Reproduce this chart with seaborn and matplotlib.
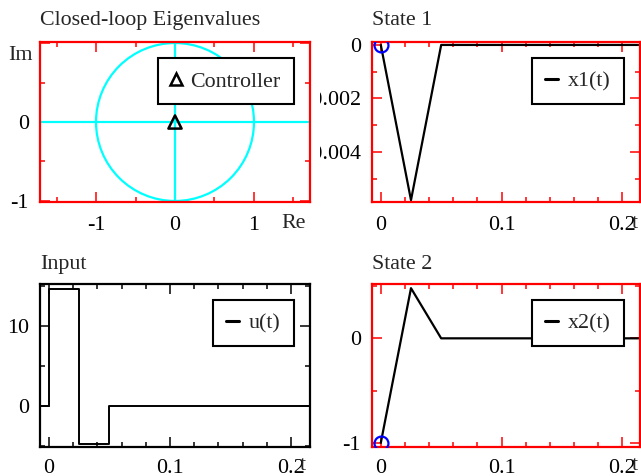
import matplotlib
matplotlib.use("Agg")
import matplotlib.pyplot as plt
import matplotlib.ticker as ticker
from matplotlib.patches import Circle
from matplotlib.transforms import Bbox
import pandas as pd
import seaborn as sns

# Data
eig_re = [0.0]
eig_im = [0.0]
unit_radius = 1.0

t = [0.0, 0.025, 0.05, 0.075, 0.1, 0.125, 0.15, 0.175, 0.2, 0.225]
x1 = [0.0, -0.0058, 0.0, 0.0, 0.0, 0.0, 0.0, 0.0, 0.0, 0.0]
x2 = [-1.0, 0.48, 0.0, 0.0, 0.0, 0.0, 0.0, 0.0, 0.0, 0.0]

t_u = [-0.01, 0.0, 0.025, 0.05, 0.225]
u = [0.0, 14.6, -4.75, 0.0, 0.0]

x0 = [0.0, -1.0]  # initial state

# Style
sns.set_style("ticks")
plt.rcParams['font.family'] = ['Liberation Serif', 'DejaVu Serif']
FS = 15.8
W, H = 641, 476
fig = plt.figure(figsize=(W / 100, H / 100), dpi=100)


def px_axes(x0_, y0_, x1_, y1_):
    return fig.add_axes([x0_ / W, 1 - y1_ / H, (x1_ - x0_) / W, (y1_ - y0_) / H])


def style_axes(ax, color, xmaj, xmin, ymaj, ymin, xpad=10):
    for s in ax.spines.values():
        s.set_color(color)
        s.set_linewidth(1.6)
        s.set_visible(True)
    ax.xaxis.set_major_locator(ticker.MultipleLocator(xmaj))
    ax.xaxis.set_minor_locator(ticker.MultipleLocator(xmin))
    ax.yaxis.set_major_locator(ticker.MultipleLocator(ymaj))
    ax.yaxis.set_minor_locator(ticker.MultipleLocator(ymin))
    ax.tick_params(which='both', direction='in', top=True, right=True,
                   color=color, width=1.1, labelsize=FS, labelcolor='black')
    ax.tick_params(which='major', length=7)
    ax.tick_params(which='minor', length=3.5)
    ax.tick_params(axis='x', which='major', pad=xpad)
    ax.tick_params(axis='y', which='major', pad=8)
    ax.xaxis.set_major_formatter(ticker.FuncFormatter(fmt))
    ax.yaxis.set_major_formatter(ticker.FuncFormatter(fmt))
    ax.set_xlabel("")
    ax.set_ylabel("")


def legend(ax, handles, labels, hl):
    leg = ax.legend(handles, labels, loc='upper right', fontsize=FS, frameon=True,
                    fancybox=False, shadow=False, framealpha=1, edgecolor='black',
                    borderpad=0.58, handlelength=hl, handletextpad=0.45,
                    borderaxespad=0.75)
    leg.get_frame().set_linewidth(1.5)
    return leg


def fmt(v, pos):
    if abs(v) < 1e-12:
        return "0"
    return ("%g" % v)


def corner_label(ax, text, dx, dy):
    ax.annotate(text, xy=(1, 0), xycoords='axes fraction', xytext=(dx, dy),
                textcoords='offset pixels', ha='center', va='center', fontsize=FS)


# Panel 1: eigenvalues
ax1 = px_axes(40, 42, 310, 202)
ax1.axhline(0, color='cyan', lw=1.6, zorder=1)
sns.lineplot(x=[0, 0], y=[-unit_radius, unit_radius], ax=ax1, color='cyan', lw=1.6,
             zorder=1, estimator=None, sort=False)
ax1.add_patch(Circle((0, 0), unit_radius, fill=False, edgecolor='cyan', lw=1.6, zorder=1))
sns.scatterplot(x=eig_re, y=eig_im, ax=ax1, marker='^', s=90, facecolor='none',
                edgecolor='black', linewidth=1.8, zorder=3)
ax1.set_xlim(-1.709, 1.709)
ax1.set_ylim(-1.013, 1.013)
style_axes(ax1, 'red', 1, 0.5, 1, 0.5)
ax1.yaxis.set_major_formatter(ticker.FuncFormatter(lambda v, p: "" if v > 0.5 else fmt(v, p)))
ax1.set_title("Closed-loop Eigenvalues", loc='left', fontsize=FS, pad=12)
h1, = ax1.plot([], [], marker='^', ls='none', ms=9, mfc='none', mec='black', mew=1.8)
legend(ax1, [h1], ["Controller"], 0.45)
ax1.annotate("Im", xy=(0, 1), xycoords='axes fraction', xytext=(-20, -14),
             textcoords='offset pixels', ha='center', va='center', fontsize=FS)
corner_label(ax1, "Re", -16, -21)

# Panel 2: State 1
ax2 = px_axes(372, 42, 640, 202)
df1 = pd.DataFrame({"t": t, "x1": x1})
sns.lineplot(data=df1, x="t", y="x1", ax=ax2, color='black', lw=1.6, sort=False)
ax2.plot([t[0]], [x0[0]], marker='o', ms=10, mfc='none', mec='blue', mew=1.6, ls='none', zorder=4)
ax2.set_xlim(-0.0073, 0.2147)
ax2.set_ylim(-0.00587, 0.00011)
style_axes(ax2, 'red', 0.1, 0.02, 0.002, 0.001)
ax2.set_title("State 1", loc='left', fontsize=FS, pad=12)
h2, = ax2.plot([], [], color='black', lw=2.2)
legend(ax2, [h2], ["x1(t)"], 0.6)
corner_label(ax2, "t", -5, -21)

# Panel 3: Input
ax3 = px_axes(40, 284, 310, 447)
df3 = pd.DataFrame({"t": t_u, "u": u})
sns.lineplot(data=df3, x="t", y="u", ax=ax3, color='black', lw=1.4,
             drawstyle='steps-post', sort=False)
ax3.set_xlim(-0.0074, 0.2157)
ax3.set_ylim(-5.15, 15.2)
style_axes(ax3, 'black', 0.1, 0.02, 10, 5, xpad=8.5)
ax3.set_title("Input", loc='left', fontsize=FS, pad=11)
h3, = ax3.plot([], [], color='black', lw=2.2)
legend(ax3, [h3], ["u(t)"], 0.6)
corner_label(ax3, "t", -7, -19)

# Panel 4: State 2
ax4 = px_axes(372, 284, 640, 447)
df2 = pd.DataFrame({"t": t, "x2": x2})
sns.lineplot(data=df2, x="t", y="x2", ax=ax4, color='black', lw=1.6, sort=False)
ax4.plot([t[0]], [x0[1]], marker='o', ms=10, mfc='none', mec='blue', mew=1.6, ls='none', zorder=4)
ax4.set_xlim(-0.0073, 0.2147)
ax4.set_ylim(-1.04, 0.52)
style_axes(ax4, 'red', 0.1, 0.02, 1, 0.5, xpad=8.5)
ax4.set_title("State 2", loc='left', fontsize=FS, pad=11)
h4, = ax4.plot([], [], color='black', lw=2.2)
legend(ax4, [h4], ["x2(t)"], 0.6)
corner_label(ax4, "t", -5, -19)

# right-hand panels: clip y tick labels at the column boundary
fig.canvas.draw()
clip = Bbox.from_extents(320, 0, W, H)
for ax in (ax2, ax4):
    for lab in ax.get_yticklabels():
        lab.set_clip_box(clip)
        lab.set_clip_on(True)

fig.savefig("out.png", dpi=100)
